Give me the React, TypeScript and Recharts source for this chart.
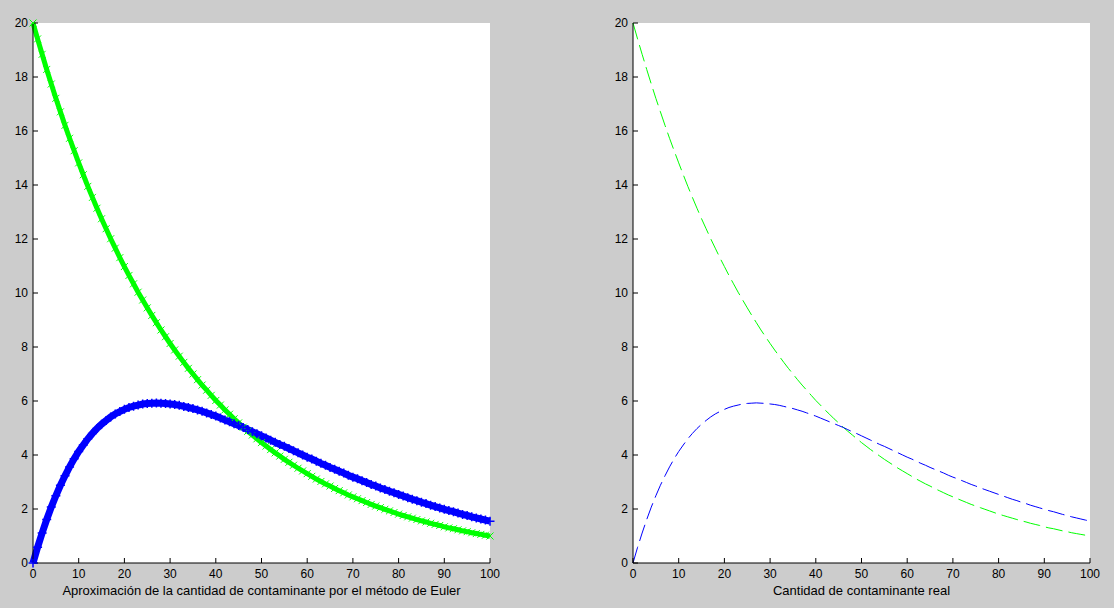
import { CartesianGrid, Line, LineChart, XAxis, YAxis } from "recharts";

// tiempo (eje x)
const tiempo = [
  0, 1, 2, 3, 4, 5, 6, 7, 8, 9,
  10, 11, 12, 13, 14, 15, 16, 17, 18, 19,
  20, 21, 22, 23, 24, 25, 26, 27, 28, 29,
  30, 31, 32, 33, 34, 35, 36, 37, 38, 39,
  40, 41, 42, 43, 44, 45, 46, 47, 48, 49,
  50, 51, 52, 53, 54, 55, 56, 57, 58, 59,
  60, 61, 62, 63, 64, 65, 66, 67, 68, 69,
  70, 71, 72, 73, 74, 75, 76, 77, 78, 79,
  80, 81, 82, 83, 84, 85, 86, 87, 88, 89,
  90, 91, 92, 93, 94, 95, 96, 97, 98, 99,
  100,
];

// contaminante en el primer tanque (verde)
const tanqueA = [
  20, 19.41, 18.84, 18.28, 17.74, 17.21, 16.71, 16.21, 15.73, 15.27,
  14.82, 14.38, 13.95, 13.54, 13.14, 12.75, 12.38, 12.01, 11.66, 11.31,
  10.98, 10.65, 10.34, 10.03, 9.74, 9.45, 9.17, 8.9, 8.63, 8.38,
  8.13, 7.89, 7.66, 7.43, 7.21, 7.0, 6.79, 6.59, 6.4, 6.21,
  6.02, 5.85, 5.67, 5.51, 5.34, 5.19, 5.03, 4.88, 4.74, 4.6,
  4.46, 4.33, 4.2, 4.08, 3.96, 3.84, 3.73, 3.62, 3.51, 3.41,
  3.31, 3.21, 3.11, 3.02, 2.93, 2.85, 2.76, 2.68, 2.6, 2.52,
  2.45, 2.38, 2.31, 2.24, 2.17, 2.11, 2.05, 1.99, 1.93, 1.87,
  1.81, 1.76, 1.71, 1.66, 1.61, 1.56, 1.52, 1.47, 1.43, 1.39,
  1.34, 1.3, 1.27, 1.23, 1.19, 1.16, 1.12, 1.09, 1.06, 1.03,
  1.0,
];

// contaminante en el segundo tanque (azul)
const tanqueB = [
  0, 0.58, 1.11, 1.61, 2.07, 2.49, 2.88, 3.23, 3.56, 3.86,
  4.13, 4.37, 4.6, 4.8, 4.98, 5.14, 5.28, 5.41, 5.52, 5.61,
  5.69, 5.76, 5.81, 5.85, 5.89, 5.91, 5.92, 5.93, 5.92, 5.91,
  5.89, 5.87, 5.84, 5.8, 5.76, 5.72, 5.67, 5.62, 5.56, 5.5,
  5.44, 5.37, 5.3, 5.23, 5.16, 5.09, 5.02, 4.94, 4.86, 4.79,
  4.71, 4.63, 4.55, 4.47, 4.39, 4.32, 4.24, 4.16, 4.08, 4.0,
  3.92, 3.85, 3.77, 3.69, 3.62, 3.54, 3.47, 3.4, 3.33, 3.25,
  3.18, 3.12, 3.05, 2.98, 2.91, 2.85, 2.78, 2.72, 2.66, 2.6,
  2.54, 2.48, 2.42, 2.36, 2.31, 2.25, 2.2, 2.14, 2.09, 2.04,
  1.99, 1.94, 1.9, 1.85, 1.8, 1.76, 1.71, 1.67, 1.63, 1.59,
  1.55,
];

const xTicks = [0, 10, 20, 30, 40, 50, 60, 70, 80, 90, 100];
const yTicks = [0, 2, 4, 6, 8, 10, 12, 14, 16, 18, 20];

const data = tiempo.map((t, i) => ({ t, a: tanqueA[i], b: tanqueB[i] }));

const font = "'Liberation Sans', Arial, sans-serif";
const tickStyle = { fill: "#000", fontSize: 12, fontFamily: font };

const cruzX = (props: any) => {
  const { cx, cy, index } = props;
  if (cx == null || cy == null) return <g key={`gx${index}`} />;
  const s = 3.5;
  return (
    <path
      key={`gx${index}`}
      d={`M${cx - s},${cy - s}L${cx + s},${cy + s}M${cx - s},${cy + s}L${cx + s},${cy - s}`}
      stroke="#00ff00"
      strokeWidth={1}
      fill="none"
    />
  );
};

const cruzMas = (props: any) => {
  const { cx, cy, index } = props;
  if (cx == null || cy == null) return <g key={`bp${index}`} />;
  const s = 4.5;
  return (
    <path
      key={`bp${index}`}
      d={`M${cx - s},${cy}L${cx + s},${cy}M${cx},${cy - s}L${cx},${cy + s}`}
      stroke="#0000ff"
      strokeWidth={1.5}
      fill="none"
    />
  );
};

function Panel({
  width,
  rightMargin,
  label,
  euler,
}: {
  width: number;
  rightMargin: number;
  label: string;
  euler: boolean;
}) {
  return (
    <LineChart
      width={width}
      height={608}
      data={data}
      margin={{ top: 23, right: rightMargin, bottom: 0, left: 0 }}
    >
      <CartesianGrid fill="#ffffff" horizontal={false} vertical={false} />
      <XAxis
        dataKey="t"
        type="number"
        domain={[0, 100]}
        ticks={xTicks}
        interval={0}
        height={45}
        tick={tickStyle}
        tickSize={-5}
        tickMargin={11}
        axisLine={{ stroke: "#000" }}
        tickLine={{ stroke: "#000" }}
        label={{
          value: label,
          position: "insideBottom",
          offset: 13,
          fill: "#000",
          fontSize: 13,
          fontFamily: font,
        }}
      />
      <YAxis
        type="number"
        domain={[0, 20]}
        ticks={yTicks}
        interval={0}
        width={33}
        tick={tickStyle}
        tickSize={-5}
        tickMargin={10}
        axisLine={{ stroke: "#000" }}
        tickLine={{ stroke: "#000" }}
      />
      {euler ? (
        <>
          <Line
            dataKey="a"
            stroke="#00ff00"
            strokeWidth={5}
            dot={cruzX}
            activeDot={false}
            isAnimationActive={false}
          />
          <Line
            dataKey="b"
            stroke="#0000ff"
            strokeWidth={7}
            dot={cruzMas}
            activeDot={false}
            isAnimationActive={false}
          />
        </>
      ) : (
        <>
          <Line
            dataKey="a"
            stroke="#00ff00"
            strokeWidth={1}
            strokeDasharray="17 6"
            dot={false}
            activeDot={false}
            isAnimationActive={false}
          />
          <Line
            dataKey="b"
            stroke="#0000ff"
            strokeWidth={1}
            strokeDasharray="17 6"
            dot={false}
            activeDot={false}
            isAnimationActive={false}
          />
        </>
      )}
    </LineChart>
  );
}

export default function App() {
  return (
    <div
      style={{
        position: "absolute",
        left: 0,
        top: 0,
        width: 1114,
        height: 608,
        background: "#cccccc",
        fontFamily: font,
        overflow: "hidden",
      }}
    >
      <div style={{ position: "absolute", left: 0, top: 0 }}>
        <Panel
          width={557}
          rightMargin={67}
          label="Aproximación de la cantidad de contaminante por el método de Euler"
          euler
        />
      </div>
      <div style={{ position: "absolute", left: 600, top: 0 }}>
        <Panel
          width={514}
          rightMargin={24}
          label="Cantidad de contaminante real"
          euler={false}
        />
      </div>
    </div>
  );
}
